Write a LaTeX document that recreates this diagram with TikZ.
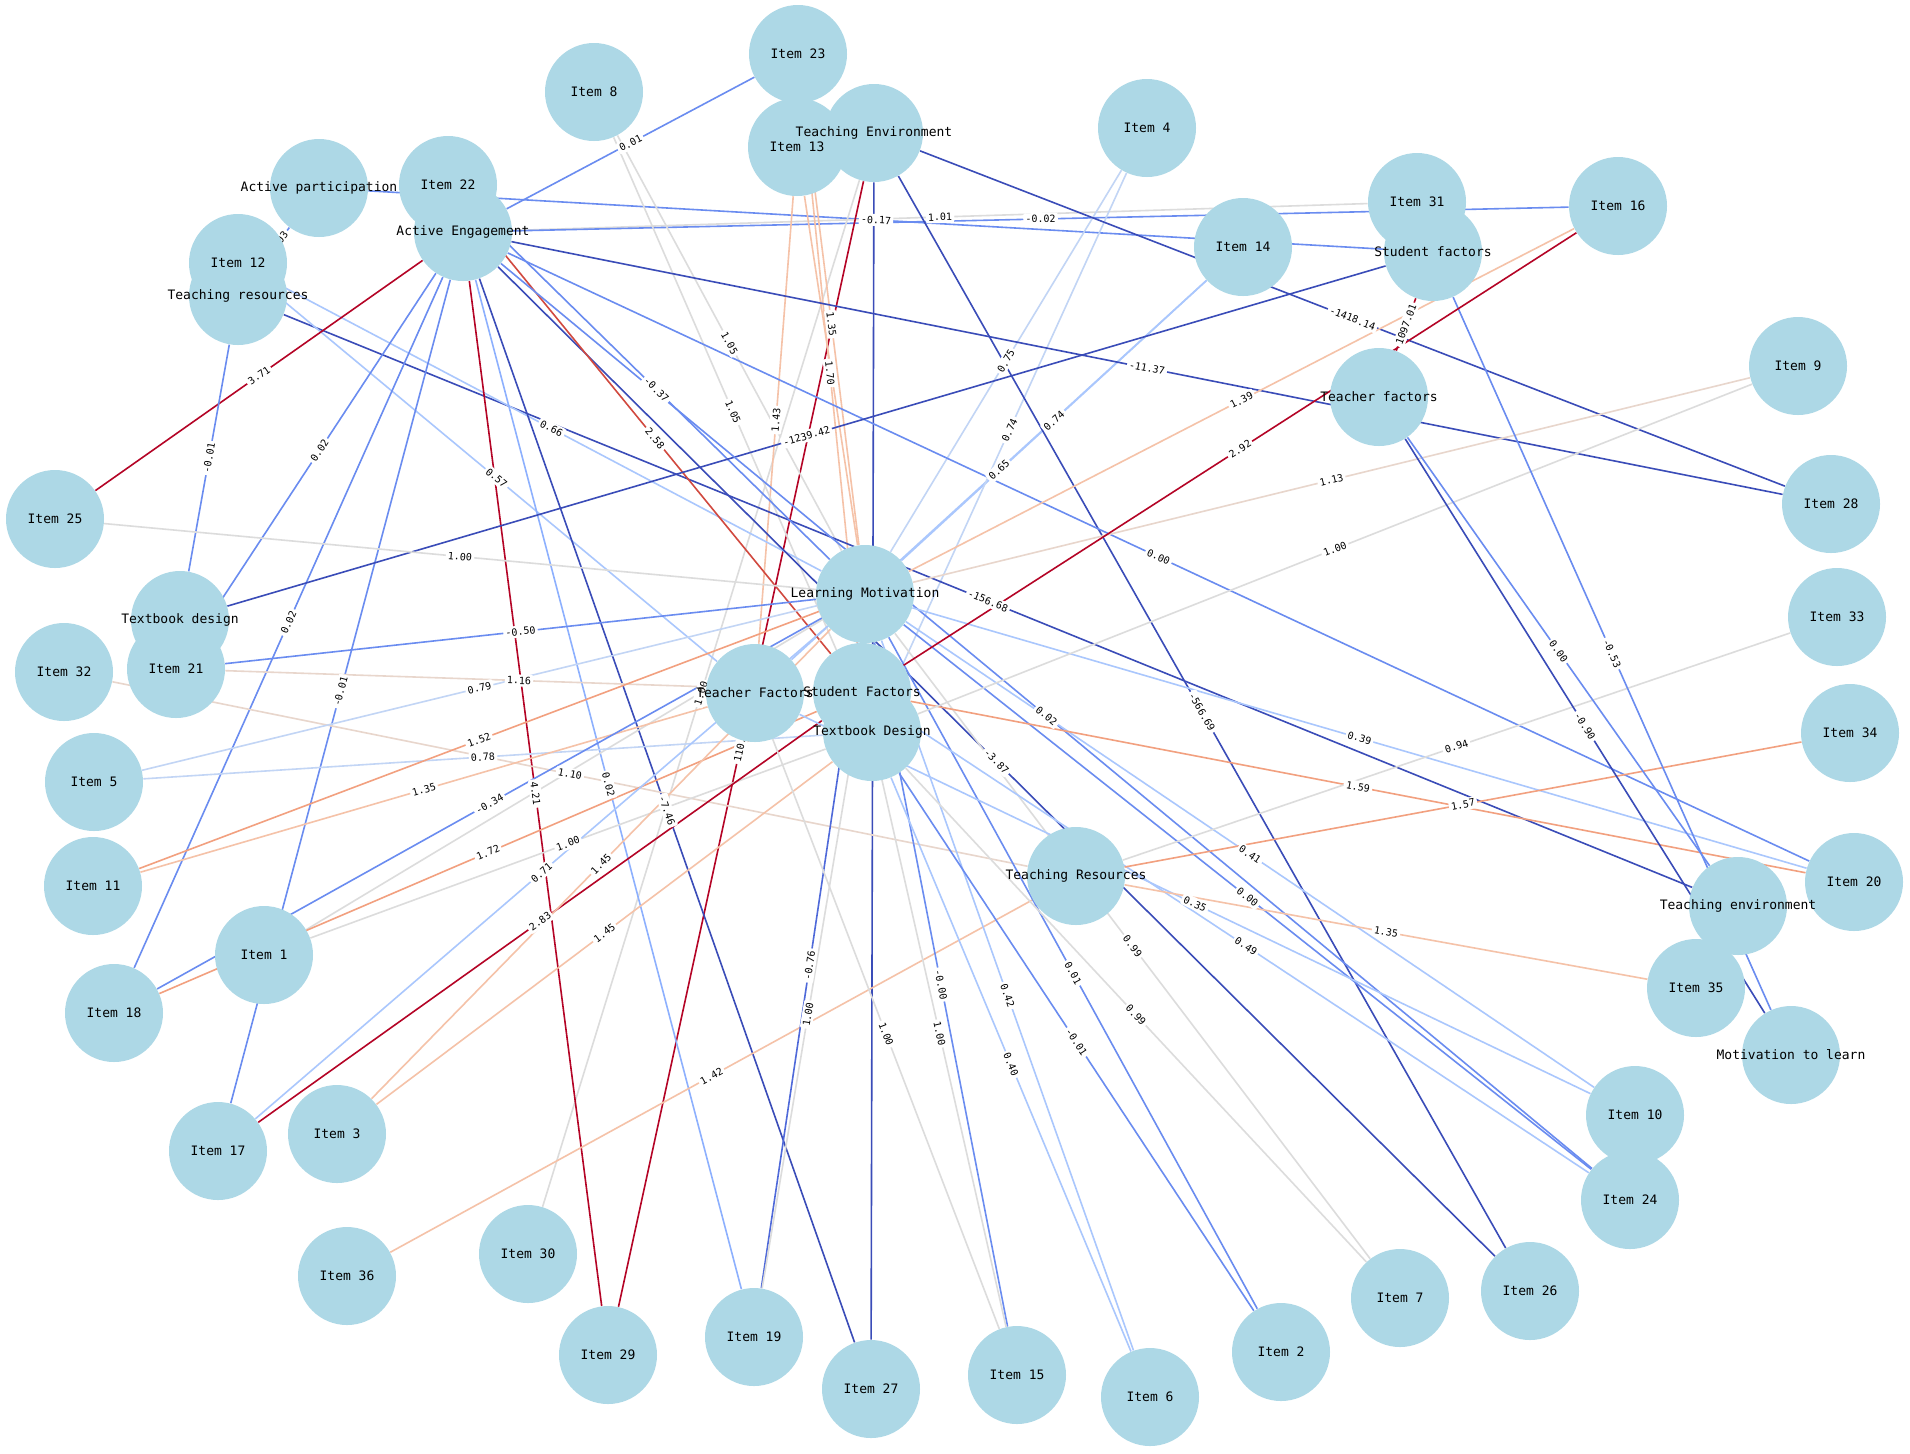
\documentclass[tikz,border=0pt]{standalone}
\usepackage{fontspec}
\newfontfamily\monof{DejaVu Sans Mono}
\definecolor{nodeblue}{HTML}{ADD8E6}
\definecolor{dkB}{HTML}{3A4CB8}
\definecolor{mdB}{HTML}{4F69D9}
\definecolor{mB}{HTML}{6A8CF0}
\definecolor{mB2}{HTML}{8DB0FE}
\definecolor{lB}{HTML}{AAC7FD}
\definecolor{vlB}{HTML}{C2D5F5}
\definecolor{gr}{HTML}{DCDCDC}
\definecolor{bg}{HTML}{E8D6CC}
\definecolor{lO}{HTML}{F5C2A8}
\definecolor{oR}{HTML}{F2A07F}
\definecolor{mR}{HTML}{D1493F}
\definecolor{dR}{HTML}{B40426}
\pgfdeclarelayer{bglayer}
\pgfdeclarelayer{edgelayer}
\pgfdeclarelayer{labellayer}
\pgfdeclarelayer{textlayer}
\pgfsetlayers{bglayer,edgelayer,labellayer,main,textlayer}
\tikzset{
  circ/.style={circle, fill=nodeblue, draw=none, minimum size=49pt, inner sep=0pt},
  txt/.style={font=\monof\fontsize{6.5pt}{7pt}\selectfont, inner sep=0pt, text=black},
  lab/.style={midway, sloped, fill=white, rounded corners=1pt, inner sep=1.1pt, text=black,
              font=\monof\fontsize{5pt}{5.5pt}\selectfont},
  ed/.style={line width=0.8pt}
}
\newcommand{\nodeC}[4]{\node[circ] (#1) at (#2,#3) {};%
  \begin{pgfonlayer}{textlayer}\node[txt] (#1t) at (#2,#3) {#4};\end{pgfonlayer}}
\newcommand{\edgeL}[4]{\begin{pgfonlayer}{edgelayer}\draw[ed,#1] (#2) -- (#3);\end{pgfonlayer}%
  \begin{pgfonlayer}{labellayer}\path (#2) -- node[lab]{#4} (#3);\end{pgfonlayer}}
\newcommand{\edgeP}[3]{\begin{pgfonlayer}{edgelayer}\draw[ed,#1] (#2) -- (#3);\end{pgfonlayer}}
\begin{document}
\begin{tikzpicture}[x=0.5pt,y=-0.5pt]
\begin{pgfonlayer}{bglayer}
\fill[white] (0,0) rectangle (1910,1453);
\end{pgfonlayer}
\useasboundingbox (0,0) rectangle (1910,1453);
% ---------- nodes ----------
\nodeC{AP}{319}{188}{Active participation}
\nodeC{I22}{448}{185}{Item 22}
\nodeC{AE}{463}{232}{Active Engagement}
\nodeC{I12}{238}{263}{Item 12}
\nodeC{tr}{238}{296}{Teaching resources}
\nodeC{I25}{55}{519}{Item 25}
\nodeC{I8}{594}{92}{Item 8}
\nodeC{I23}{798}{54}{Item 23}
\nodeC{I13}{797}{147}{Item 13}
\nodeC{TE}{874}{133}{Teaching Environment}
\nodeC{I4}{1147}{128}{Item 4}
\nodeC{I14}{1243}{247}{Item 14}
\nodeC{I31}{1417}{202}{Item 31}
\nodeC{sf}{1433}{252}{Student factors}
\nodeC{tf}{1379}{397}{Teacher factors}
\nodeC{I16}{1618}{206}{Item 16}
\nodeC{I9}{1798}{366}{Item 9}
\nodeC{I28}{1831}{504}{Item 28}
\nodeC{td}{180}{620}{Textbook design}
\nodeC{I32}{64}{672}{Item 32}
\nodeC{I21}{176}{669}{Item 21}
\nodeC{I5}{94}{782}{Item 5}
\nodeC{I11}{93}{886}{Item 11}
\nodeC{I1}{264}{955}{Item 1}
\nodeC{I18}{114}{1013}{Item 18}
\nodeC{I17}{218}{1151}{Item 17}
\nodeC{I3}{337}{1134}{Item 3}
\nodeC{I36}{347}{1276}{Item 36}
\nodeC{I30}{528}{1254}{Item 30}
\nodeC{I29}{608}{1355}{Item 29}
\nodeC{I19}{754}{1337}{Item 19}
\nodeC{I27}{871}{1389}{Item 27}
\nodeC{I15}{1017}{1375}{Item 15}
\nodeC{I6}{1150}{1397}{Item 6}
\nodeC{I2}{1281}{1352}{Item 2}
\nodeC{I7}{1400}{1298}{Item 7}
\nodeC{I26}{1530}{1291}{Item 26}
\nodeC{I24}{1630}{1200}{Item 24}
\nodeC{I10}{1635}{1115}{Item 10}
\nodeC{I35}{1696}{988}{Item 35}
\nodeC{ml}{1791}{1055}{Motivation to learn}
\nodeC{te}{1738}{906}{Teaching environment}
\nodeC{I20}{1854}{882}{Item 20}
\nodeC{I34}{1850}{733}{Item 34}
\nodeC{I33}{1837}{617}{Item 33}
\nodeC{LM}{865}{594}{Learning Motivation}
\nodeC{TF}{755}{693}{Teacher Factors}
\nodeC{SF}{862}{692}{Student Factors}
\nodeC{TD}{872}{732}{Textbook Design}
\nodeC{TR}{1076}{876}{Teaching Resources}
% ---------- edges ----------
\edgeL{mB}{AE}{I23}{0.01}
\edgeL{mB}{AP}{sf}{-0.17}
\edgeL{gr}{AE}{I31}{1.01}
\edgeL{mB}{AE}{I16}{-0.02}
\edgeL{lB}{I14}{LM}{0.74}
\edgeL{lB}{I14}{TF}{0.65}
\edgeL{vlB}{I4}{LM}{0.75}
\edgeL{vlB}{I4}{TD}{0.74}
\edgeL{dkB}{TE}{I28}{-1418.14}
\edgeL{dkB}{TE}{I26}{-566.69}
\edgeP{dkB}{TE}{I27}
\edgeL{dR}{TE}{I29}{110.00}
\edgeL{gr}{TE}{I30}{1.00}
\edgeL{lO}{I13}{TF}{1.43}
\edgeL{lO}{I23}{LM}{1.35}
\edgeP{lO}{I13}{LM}
\edgeL{lO}{I23}{SF}{1.70}
\edgeL{gr}{I8}{LM}{1.05}
\edgeL{gr}{I8}{TD}{1.05}
\edgeL{dkB}{AE}{I28}{-11.37}
\edgeL{mB}{AE}{I20}{0.00}
\edgeL{dkB}{tr}{te}{-156.68}
\edgeL{lB}{I12}{LM}{0.66}
\edgeL{lB}{I12}{TF}{0.57}
\edgeL{mB}{I22}{LM}{-0.37}
\edgeL{dkB}{AE}{I26}{-3.87}
\edgeL{mR}{I22}{SF}{2.58}
\edgeL{dR}{AE}{I29}{4.21}
\edgeL{dR}{AE}{I25}{3.71}
\edgeL{mB}{AE}{I21}{0.02}
\edgeL{mB}{AE}{I18}{0.02}
\edgeL{mB}{tr}{td}{-0.01}
\edgeL{mB}{AE}{I17}{-0.01}
\edgeL{mB2}{AE}{I19}{0.02}
\edgeL{dkB}{AE}{I27}{-7.46}
\edgeL{dkB}{sf}{td}{-1239.42}
\edgeL{mB}{I21}{LM}{-0.50}
\edgeL{bg}{I21}{SF}{1.16}
\edgeP{gr}{I1}{LM}
\edgeL{bg}{I32}{TR}{1.10}
\edgeL{vlB}{I5}{LM}{0.79}
\edgeL{vlB}{I5}{TD}{0.78}
\edgeL{oR}{I11}{LM}{1.52}
\edgeL{lO}{I11}{TF}{1.35}
\edgeL{mB}{I18}{LM}{-0.34}
\edgeL{oR}{I18}{SF}{1.72}
\edgeL{gr}{I1}{TD}{1.00}
\edgeL{lB}{I17}{LM}{0.71}
\edgeL{dR}{I17}{SF}{2.83}
\edgeL{lO}{I3}{LM}{1.45}
\edgeL{lO}{I3}{TD}{1.45}
\edgeL{lO}{I36}{TR}{1.42}
\edgeL{mdB}{I19}{LM}{-0.76}
\edgeL{gr}{I19}{SF}{1.00}
\edgeL{gr}{I15}{TF}{1.00}
\edgeL{mB}{I15}{LM}{-0.00}
\edgeL{gr}{I15}{SF}{1.00}
\edgeL{lB}{I6}{LM}{0.42}
\edgeL{lB}{I6}{TD}{0.40}
\edgeL{mB}{I2}{TD}{-0.01}
\edgeL{mB}{I2}{LM}{0.01}
\edgeL{gr}{I7}{TD}{0.99}
\edgeL{gr}{I7}{LM}{0.99}
\edgeL{mB}{I24}{LM}{0.00}
\edgeL{lB}{I24}{SF}{0.49}
\edgeL{mB}{AE}{I24}{0.02}
\edgeL{lB}{I10}{LM}{0.41}
\edgeL{lB}{I10}{TF}{0.35}
\edgeL{lO}{TR}{I35}{1.35}
\edgeL{oR}{I20}{SF}{1.59}
\edgeL{lB}{I20}{LM}{0.39}
\edgeL{oR}{I34}{TR}{1.57}
\edgeL{gr}{I33}{TR}{0.94}
\edgeL{gr}{I9}{TD}{1.00}
\edgeL{bg}{I9}{LM}{1.13}
\edgeL{mB}{sf}{ml}{-0.53}
\edgeL{mB}{tf}{te}{0.00}
\edgeL{dkB}{tf}{ml}{-0.90}
\edgeL{dR}{I16}{SF}{2.92}
\edgeL{lO}{I16}{LM}{1.39}
\edgeL{dR}{sf}{tf}{1097.01}
\edgeL{gr}{I25}{LM}{1.00}
\edgeL{mB}{tr}{AP}{0.03}
\end{tikzpicture}
\end{document}
